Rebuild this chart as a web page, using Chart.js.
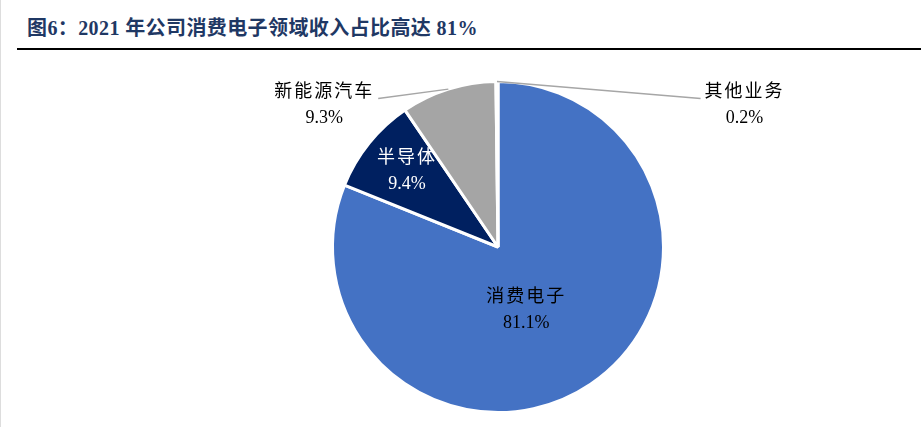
<!DOCTYPE html>
<html>
<head>
<meta charset="utf-8">
<script src="https://cdn.jsdelivr.net/npm/chart.js@4/dist/chart.umd.min.js"></script>
<style>
  body { margin: 0; background: #fff; }
  .wrap { position: relative; width: 921px; height: 427px; border-left: 1px solid #ddd; box-sizing: border-box; }
  .title {
    position: absolute; left: 26px; top: 12px;
    font: bold 20px "Liberation Serif", "Noto Sans CJK SC", serif;
    color: #1f3864; letter-spacing: 0.4px;
  }
  .rule { position: absolute; left: 16px; right: 0; top: 48px; height: 2px; background: #000; }
  canvas { position: absolute; left: 0; top: 0; }
</style>
</head>
<body>
<div class="wrap">
  <div class="title">图6：2021 年公司消费电子领域收入占比高达 81%</div>
  <div class="rule"></div>
  <canvas id="pie" width="921" height="427"></canvas>
</div>
<script>
const categories = ["消费电子", "半导体", "新能源汽车", "其他业务"];
const shares = [81.1, 9.4, 9.3, 0.2];
const sliceColors = ["#4472c4", "#002060", "#a5a5a5", "#ffc000"];

// label placement: offset from pie centre in units of radius, and whether a leader line is drawn
const labelSpots = [
  { dx: 0.17, dy: 0.38, color: "#000", leader: false },
  { dx: -0.55, dy: -0.46, color: "#fff", leader: false },
  { dx: -1.05, dy: -0.855, color: "#000", leader: true, side: "right" },
  { dx: 1.49, dy: -0.855, color: "#000", leader: true, side: "left" }
];

const labelPlugin = {
  id: "pieLabels",
  afterDatasetsDraw(chart) {
    const ctx = chart.ctx;
    const arcs = chart.getDatasetMeta(0).data;
    ctx.save();
    ctx.font = '18px "Liberation Serif", "Noto Sans CJK SC", serif';
    ctx.textAlign = "center";
    ctx.textBaseline = "middle";
    arcs.forEach((arc, i) => {
      const spot = labelSpots[i];
      const r = arc.outerRadius;
      const cx = arc.x + spot.dx * r;
      const cy = arc.y + spot.dy * r;
      const name = categories[i];
      const pct = shares[i].toFixed(1) + "%";
      if (spot.leader) {
        const mid = (arc.startAngle + arc.endAngle) / 2;
        const ex = arc.x + Math.cos(mid) * r;
        const ey = arc.y + Math.sin(mid) * r;
        ctx.letterSpacing = "2px";
        const w = ctx.measureText(name).width;
        const sx = spot.side === "right" ? cx + w / 2 + 4 : cx - w / 2 - 4;
        const sy = cy - 7;
        ctx.strokeStyle = "#a6a6a6";
        ctx.lineWidth = 1.5;
        ctx.beginPath();
        ctx.moveTo(sx, sy);
        ctx.lineTo(ex, ey);
        ctx.stroke();
      }
      ctx.fillStyle = spot.color;
      ctx.letterSpacing = "2px";
      ctx.fillText(name, cx, cy - 13);
      ctx.letterSpacing = "0px";
      ctx.fillText(pct, cx, cy + 13);
    });
    ctx.restore();
  }
};

new Chart(document.getElementById("pie").getContext("2d"), {
  type: "pie",
  data: {
    labels: categories,
    datasets: [{
      data: shares,
      backgroundColor: sliceColors,
      borderColor: "#ffffff",
      borderWidth: 3
    }]
  },
  options: {
    responsive: false,
    animation: false,
    layout: { padding: { left: 330, right: 257, top: 80, bottom: 13 } },
    plugins: {
      legend: { display: false },
      tooltip: { enabled: false },
      title: { display: false }
    }
  },
  plugins: [labelPlugin]
});
</script>
</body>
</html>
